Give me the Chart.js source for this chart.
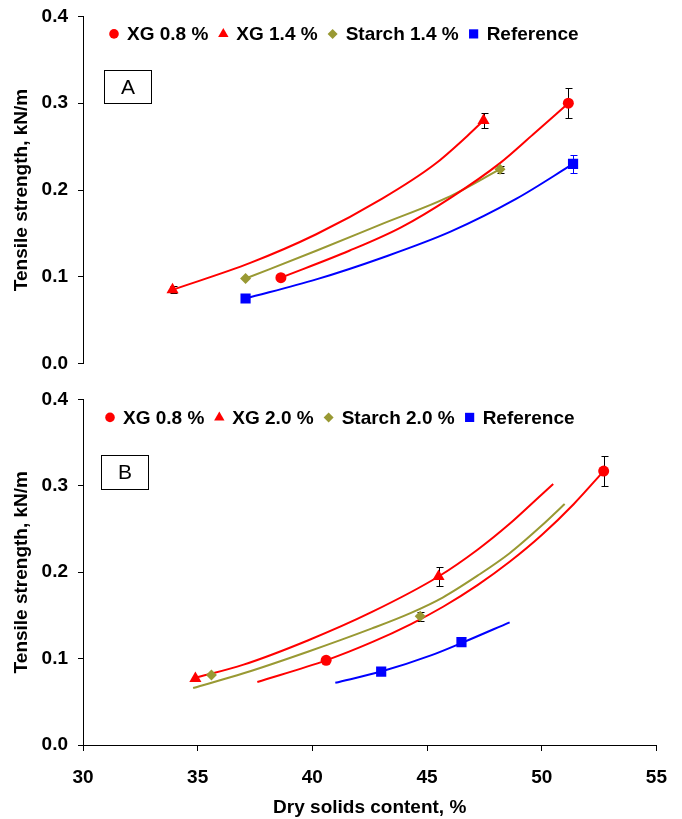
<!DOCTYPE html>
<html><head><meta charset="utf-8">
<script src="https://cdn.jsdelivr.net/npm/chart.js@4.4.1/dist/chart.umd.min.js"></script>
<style>
html,body{margin:0;padding:0;background:#fff;}
#wrap{position:relative;width:682px;height:819px;overflow:hidden;}
#cA{position:absolute;left:0;top:-5px;}
#cB{position:absolute;left:0;top:378px;}
</style></head><body>
<div id="wrap">
<canvas id="cA" width="682" height="390"></canvas>
<canvas id="cB" width="682" height="441"></canvas>
</div>
<script>
// ---------- axes ----------
const xTicks = [30, 35, 40, 45, 50, 55];
const yTicks = [0, 0.1, 0.2, 0.3, 0.4];
const xTitle = 'Dry solids content, %';
const yTitle = 'Tensile strength, kN/m';

// ---------- legend labels ----------
const labelsA = ['XG 0.8 %', 'XG 1.4 %', 'Starch 1.4 %', 'Reference'];
const labelsB = ['XG 0.8 %', 'XG 2.0 %', 'Starch 2.0 %', 'Reference'];

// ---------- Panel A: measured points ----------
const aXg08X = [38.4, 50.6],  aXg08Y = [0.099, 0.300], aXg08Err = [0, 0.017];
const aXg14X = [33.8, 47.0],  aXg14Y = [0.085, 0.280], aXg14Err = [0.004, 0.009];
const aStX   = [36.9, 47.7],  aStY   = [0.098, 0.224], aStErr   = [0, 0.004];
const aRefX  = [36.9, 50.8],  aRefY  = [0.075, 0.230], aRefErr  = [0, 0.010];

// ---------- Panel A: fitted curves ----------
const aXg08FitX = [38.4, 41.3, 43.5, 45.6, 47.7, 49.1, 50.6];
const aXg08FitY = [0.099, 0.130, 0.157, 0.191, 0.231, 0.264, 0.300];
const aXg14FitX = [33.8, 37.1, 39.9, 42.7, 44.9, 46.3, 47.0];
const aXg14FitY = [0.085, 0.116, 0.149, 0.190, 0.229, 0.262, 0.280];
const aStFitX   = [36.9, 39.9, 42.7, 45.6, 47.7];
const aStFitY   = [0.098, 0.130, 0.161, 0.193, 0.224];
const aRefFitX  = [36.9, 39.9, 42.7, 45.6, 48.4, 50.8];
const aRefFitY  = [0.075, 0.097, 0.122, 0.152, 0.190, 0.230];

// ---------- Panel B: measured points ----------
const bXg08X = [40.6, 52.7],  bXg08Y = [0.098, 0.317], bXg08Err = [0, 0.017];
const bXg20X = [34.9, 45.5],  bXg20Y = [0.077, 0.195], bXg20Err = [0, 0.011];
const bStX   = [35.6, 44.7],  bStY   = [0.081, 0.149], bStErr   = [0, 0.005];
const bRefX  = [43.0, 46.5],  bRefY  = [0.085, 0.119], bRefErr  = [0, 0];

// ---------- Panel B: fitted curves ----------
const bXg08FitX = [37.6, 40.6, 42.6, 44.3, 45.7, 47.2, 48.6, 50.0, 51.4, 52.7];
const bXg08FitY = [0.073, 0.098, 0.119, 0.140, 0.160, 0.185, 0.212, 0.243, 0.279, 0.317];
const bXg20FitX = [34.8, 37.0, 39.8, 42.6, 45.5, 47.2, 48.6, 50.0, 50.5];
const bXg20FitY = [0.077, 0.093, 0.121, 0.154, 0.195, 0.226, 0.256, 0.290, 0.302];
const bStFitX   = [34.8, 37.0, 39.8, 42.6, 44.3, 45.7, 47.2, 48.6, 50.0, 51.0];
const bStFitY   = [0.066, 0.083, 0.108, 0.135, 0.153, 0.171, 0.196, 0.222, 0.254, 0.279];
const bRefFitX  = [41.0, 43.0, 45.2, 46.5, 48.6];
const bRefFitY  = [0.072, 0.085, 0.104, 0.118, 0.142];

// ---------- styles ----------
const RED = '#FF0000', OLIVE = '#999933', BLUE = '#0000FF';
const FONT = '"Liberation Sans", Arial, Helvetica, sans-serif';
const styles = [
  {color: RED,   pointStyle: 'circle',  radius: 5.5, legendRadius: 4.8},
  {color: RED,   pointStyle: 'triangle',radius: 7,   legendRadius: 6},
  {color: OLIVE, pointStyle: 'rectRot', radius: 5.5, legendRadius: 5},
  {color: BLUE,  pointStyle: 'rect',    radius: 7.2, legendRadius: 6.5}
];

const zip = (xs, ys) => xs.map((x, i) => ({x, y: ys[i]}));

function markerSet(label, xs, ys, errs, st, errColor) {
  return {
    label, legend: true, data: zip(xs, ys), errors: errs, errColor: errColor || '#000',
    showLine: false, pointStyle: st.pointStyle, pointRadius: st.radius,
    legendRadius: st.legendRadius,
    backgroundColor: st.color, borderColor: st.color, pointBorderWidth: 0,
    pointBackgroundColor: st.color, pointBorderColor: st.color
  };
}
function curveSet(xs, ys, color) {
  return {
    label: '', data: zip(xs, ys), showLine: true, pointRadius: 0,
    borderColor: color, backgroundColor: color, borderWidth: 2,
    cubicInterpolationMode: 'monotone', fill: false
  };
}

// ---------- plugins ----------
const errPlugin = {
  id: 'errBars',
  beforeDatasetsDraw(chart) {
    const {ctx, scales: {x, y}} = chart;
    chart.data.datasets.forEach(d => {
      if (!d.errors) return;
      ctx.save();
      ctx.strokeStyle = d.errColor; ctx.lineWidth = 1;
      d.data.forEach((p, i) => {
        const e = d.errors[i];
        if (!e) return;
        const px = Math.round(x.getPixelForValue(p.x)) + 0.5;
        const t = Math.round(y.getPixelForValue(p.y + e)) + 0.5;
        const b = Math.round(y.getPixelForValue(p.y - e)) + 0.5;
        ctx.beginPath();
        ctx.moveTo(px, t); ctx.lineTo(px, b);
        ctx.moveTo(px - 3, t); ctx.lineTo(px + 4, t);
        ctx.moveTo(px - 3, b); ctx.lineTo(px + 4, b);
        ctx.stroke();
      });
      ctx.restore();
    });
  }
};

const legendPlugin = {
  id: 'panelLegend',
  afterDraw(chart, args, opts) {
    const {ctx, chartArea} = chart;
    ctx.save();
    ctx.font = 'bold 19px ' + FONT;
    ctx.textBaseline = 'middle'; ctx.textAlign = 'left';
    let x = chartArea.left + opts.dx;
    const y = chartArea.top + opts.dy;
    chart.data.datasets.filter(d => d.legend).forEach(d => {
      ctx.fillStyle = d.backgroundColor; ctx.strokeStyle = d.borderColor; ctx.lineWidth = 0;
      Chart.helpers.drawPoint(ctx, {pointStyle: d.pointStyle, radius: d.legendRadius, borderWidth: 0}, x + 4, y);
      ctx.fillStyle = '#000';
      ctx.fillText(d.label, x + 17, y + 1);
      x += 17 + ctx.measureText(d.label).width + 11;
    });
    ctx.restore();
  }
};

const boxPlugin = {
  id: 'panelBox',
  afterDraw(chart, args, opts) {
    const {ctx, chartArea} = chart;
    const l = Math.round(chartArea.left + opts.dx) + 0.5;
    const t = Math.round(chartArea.top + opts.dy) + 0.5;
    ctx.save();
    ctx.strokeStyle = '#000'; ctx.lineWidth = 1;
    ctx.strokeRect(l, t, opts.w, opts.h);
    ctx.fillStyle = '#000';
    ctx.font = '21px ' + FONT;
    ctx.textAlign = 'center'; ctx.textBaseline = 'middle';
    ctx.fillText(opts.text, l + opts.w / 2, t + opts.h / 2 + 1);
    ctx.restore();
  }
};

function makeChart(id, datasets, showX, pad, legendOpts, boxOpts) {
  const tickFont = {family: FONT, size: 19, weight: 'bold'};
  return new Chart(document.getElementById(id), {
    type: 'scatter',
    data: {datasets},
    options: {
      responsive: false, animation: false, events: [],
      layout: {padding: {left: 0, right: 10, top: pad.top, bottom: pad.bottom}},
      plugins: {
        legend: {display: false}, tooltip: {enabled: false},
        panelLegend: legendOpts, panelBox: boxOpts
      },
      scales: {
        x: {
          type: 'linear', min: xTicks[0], max: xTicks[xTicks.length - 1], display: showX,
          afterBuildTicks: s => { s.ticks = xTicks.map(v => ({value: v})); },
          ticks: {font: tickFont, color: '#000', padding: 15, maxRotation: 0, callback: v => String(v)},
          grid: {drawOnChartArea: false, drawTicks: true, tickLength: 6, color: '#000'},
          border: {color: '#000', width: 1},
          title: {display: true, text: xTitle, font: tickFont, color: '#000', padding: {top: 4, bottom: 0}},
          afterFit: s => { if (showX) s.height = 74; }
        },
        y: {
          type: 'linear', min: yTicks[0], max: yTicks[yTicks.length - 1],
          afterBuildTicks: s => { s.ticks = yTicks.map(v => ({value: v})); },
          ticks: {font: tickFont, color: '#000', padding: 10, callback: v => Number(v).toFixed(1)},
          grid: {drawOnChartArea: false, drawTicks: true, tickLength: 5, color: '#000'},
          border: {color: '#000', width: 1},
          title: {display: true, text: yTitle, font: tickFont, color: '#000', padding: {top: 10, bottom: 0}},
          afterFit: s => { s.width = 83; }
        }
      }
    },
    plugins: [errPlugin, legendPlugin, boxPlugin]
  });
}

const datasetsA = [
  markerSet(labelsA[0], aXg08X, aXg08Y, aXg08Err, styles[0]),
  markerSet(labelsA[1], aXg14X, aXg14Y, aXg14Err, styles[1]),
  markerSet(labelsA[2], aStX, aStY, aStErr, styles[2]),
  markerSet(labelsA[3], aRefX, aRefY, aRefErr, styles[3], BLUE),
  curveSet(aXg08FitX, aXg08FitY, RED),
  curveSet(aXg14FitX, aXg14FitY, RED),
  curveSet(aStFitX, aStFitY, OLIVE),
  curveSet(aRefFitX, aRefFitY, BLUE)
];
const datasetsB = [
  markerSet(labelsB[0], bXg08X, bXg08Y, bXg08Err, styles[0]),
  markerSet(labelsB[1], bXg20X, bXg20Y, bXg20Err, styles[1]),
  markerSet(labelsB[2], bStX, bStY, bStErr, styles[2]),
  markerSet(labelsB[3], bRefX, bRefY, bRefErr, styles[3]),
  curveSet(bXg08FitX, bXg08FitY, RED),
  curveSet(bXg20FitX, bXg20FitY, RED),
  curveSet(bStFitX, bStFitY, OLIVE),
  curveSet(bRefFitX, bRefFitY, BLUE)
];

makeChart('cA', datasetsA, false, {top: 20, bottom: 20}, {dx: 27, dy: 17.5}, {dx: 21, dy: 54, w: 47, h: 33, text: 'A'});
makeChart('cB', datasetsB, true, {top: 20, bottom: 0}, {dx: 23, dy: 18}, {dx: 18, dy: 56, w: 47, h: 34, text: 'B'});
</script>
</body></html>
